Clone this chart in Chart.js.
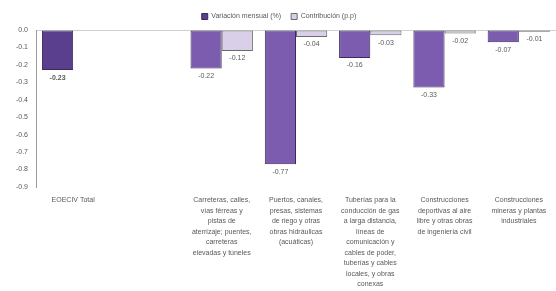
<!DOCTYPE html>
<html>
<head>
<meta charset="utf-8">
<script src="https://cdn.jsdelivr.net/npm/chart.js@4.4.1/dist/chart.umd.min.js"></script>
<style>
  html, body { margin: 0; padding: 0; background: #fff; }
  #wrap { width: 556px; height: 291px; }
</style>
</head>
<body>
<div id="wrap"><canvas id="myChart"></canvas></div>
<script>
const etiquetas = [
  "EOECIV Total",
  "",
  ["Carreteras, calles,", "vías férreas y", "pistas de", "aterrizaje; puentes,", "carreteras", "elevadas y túneles"],
  ["Puertos, canales,", "presas, sistemas", "de riego y otras", "obras hidráulicas", "(acuáticas)"],
  ["Tuberías para la", "conducción de gas", "a larga distancia,", "líneas de", "comunicación y", "cables de poder,", "tuberías y cables", "locales, y obras", "conexas"],
  ["Construcciones", "deportivas al aire", "libre y otras obras", "de ingeniería civil"],
  ["Construcciones", "mineras y plantas", "industriales"]
];
const variacion = [-0.23, null, -0.22, -0.77, -0.16, -0.33, -0.07];
const contribucion = [null, null, -0.12, -0.04, -0.03, -0.02, -0.01];
const ticksY = [0, -0.1, -0.2, -0.3, -0.4, -0.5, -0.6, -0.7, -0.8, -0.9];

const fuente = "'Liberation Sans', Arial, sans-serif";

// etiquetas de valor bajo cada barra
const etiquetasValor = {
  id: "etiquetasValor",
  afterDatasetsDraw(chart) {
    const c = chart.ctx;
    chart.data.datasets.forEach((ds, i) => {
      chart.getDatasetMeta(i).data.forEach((bar, j) => {
        const v = ds.data[j];
        if (v === null) return;
        c.save();
        c.font = (i === 0 && j === 0 ? "bold " : "") + "7px " + fuente;
        c.fillStyle = "#595959";
        c.textAlign = "center";
        c.textBaseline = "top";
        c.fillText(v.toFixed(2), bar.x, bar.y + 4);
        c.restore();
      });
    });
  }
};

new Chart(document.getElementById("myChart"), {
  type: "bar",
  data: {
    labels: etiquetas,
    datasets: [
      {
        label: "Variación mensual (%)",
        data: variacion,
        backgroundColor: ["#5a3f8e", "#7c5cae", "#7c5cae", "#7c5cae", "#7c5cae", "#7c5cae", "#7c5cae"],
        borderColor: "#3b2a5e",
        borderWidth: 1,
        borderSkipped: false,
        categoryPercentage: 0.84,
        barPercentage: 1
      },
      {
        label: "Contribución (p.p)",
        data: contribucion,
        backgroundColor: "#d9cfe8",
        borderColor: "#6b6b6b",
        borderWidth: 1,
        borderSkipped: false,
        categoryPercentage: 0.84,
        barPercentage: 1
      }
    ]
  },
  options: {
    responsive: true,
    maintainAspectRatio: false,
    animation: false,
    layout: { padding: { left: 2, right: 0, top: 3, bottom: 0 } },
    plugins: {
      legend: {
        position: "top",
        labels: {
          boxWidth: 6,
          boxHeight: 6,
          padding: 10,
          color: "#595959",
          font: { size: 7, family: fuente }
        }
      },
      tooltip: { enabled: false }
    },
    scales: {
      x: {
        grid: { display: false },
        border: { display: false },
        ticks: {
          color: "#595959",
          font: { size: 7, family: fuente, lineHeight: 1.5 },
          padding: 0,
          maxRotation: 0,
          autoSkip: false
        },
        afterFit: s => { s.height = 104; }
      },
      y: {
        min: -0.9,
        max: 0,
        afterBuildTicks: s => { s.ticks = ticksY.map(v => ({ value: v })); },
        grid: {
          drawTicks: false,
          color: ctx => ctx.tick && ctx.tick.value === 0 ? "#d0d0d0" : "rgba(0,0,0,0)"
        },
        border: { display: true, color: "#9a9a9a" },
        ticks: {
          color: "#595959",
          font: { size: 7, family: fuente },
          padding: 8,
          callback: v => v.toFixed(1)
        },
        afterFit: s => { s.width = 34; }
      }
    }
  },
  plugins: [etiquetasValor]
});
</script>
</body>
</html>
